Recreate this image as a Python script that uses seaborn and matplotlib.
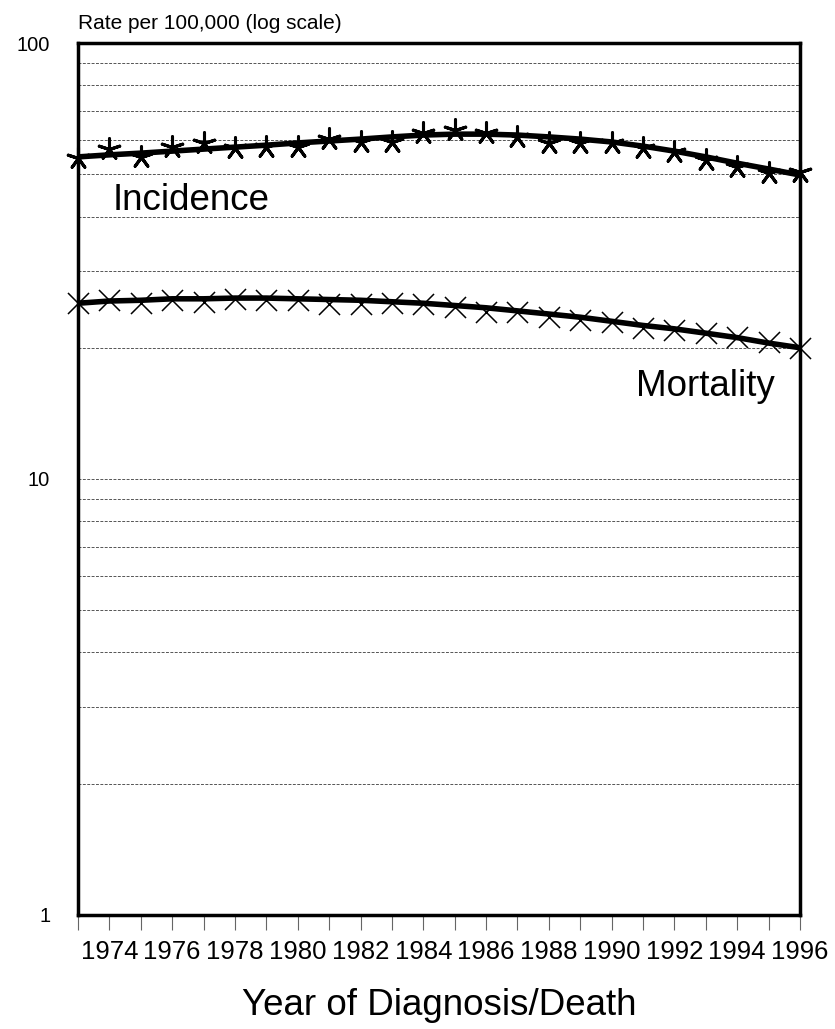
import numpy as np
import pandas as pd
import matplotlib
matplotlib.use("Agg")
import matplotlib.pyplot as plt
import seaborn as sns
from matplotlib.ticker import FixedLocator, NullFormatter

years = list(range(1973, 1997))
incidence_obs = [54.5, 57.1, 54.8, 57.7, 59.0, 57.4, 57.7, 57.7, 60.2, 59.3, 59.3, 62.2,
                 63.2, 62.2, 60.9, 59.0, 59.0, 59.0, 57.4, 56.2, 53.9, 51.9, 50.3, 50.6]
incidence_fit = [54.8, 55.4, 55.9, 56.5, 57.1, 57.7, 58.3, 59.0, 59.6, 60.2, 60.9, 61.5,
                 61.8, 61.8, 61.5, 60.9, 60.2, 59.3, 58.0, 56.5, 54.8, 53.0, 51.4, 49.8]
mortality_obs = [25.3, 25.7, 25.3, 25.7, 25.5, 25.9, 25.7, 25.7, 25.2, 25.2, 25.3, 25.2,
                 24.8, 24.2, 24.2, 23.5, 23.2, 22.9, 22.2, 22.0, 21.6, 21.2, 20.6, 20.0]
mortality_fit = [25.3, 25.6, 25.7, 25.9, 25.9, 26.0, 26.0, 25.9, 25.8, 25.7, 25.5, 25.3,
                 25.0, 24.7, 24.3, 23.9, 23.5, 23.0, 22.5, 22.1, 21.6, 21.1, 20.5, 20.0]
xtick_labels = [str(y) if y % 2 == 0 else "" for y in years]
ytick_values = [1, 10, 100]
ytick_labels = ["1", "10", "100"]
grid_values = [2, 3, 4, 5, 6, 7, 8, 9, 10, 20, 30, 40, 50, 60, 70, 80, 90]

sns.set_style("white")
plt.rcParams['font.family'] = ['Liberation Sans', 'DejaVu Sans']
plt.rcParams['text.color'] = 'black'
plt.rcParams['axes.labelcolor'] = 'black'
plt.rcParams['xtick.labelcolor'] = 'black'
plt.rcParams['ytick.labelcolor'] = 'black'

fig = plt.figure(figsize=(8.35, 10.29), dpi=100)
ax = fig.add_axes([0.0934, 0.1108, 0.8647, 0.8474])

df_fit = pd.DataFrame({"year": years * 2,
                       "rate": incidence_fit + mortality_fit,
                       "series": ["Incidence"] * 24 + ["Mortality"] * 24})

ax.set_yscale("log")
ax.set_ylim(1, 100)
ax.set_xlim(1973, 1996)

for gv in grid_values:
    ax.axhline(gv, color="#555555", lw=0.7, ls=(0, (3, 1.5)), zorder=1)

sns.lineplot(data=df_fit, x="year", y="rate", units="series", estimator=None,
             color="black", lw=4, ax=ax, legend=False, zorder=3)

sns.scatterplot(x=years, y=incidence_obs, marker=(5, 2, 0), s=240,
                color="black", linewidth=2.2, ax=ax, zorder=4)
sns.scatterplot(x=years, y=mortality_obs, marker="x", s=230,
                color="black", linewidth=1.1, ax=ax, zorder=4)
for c in ax.collections:
    c.set_clip_on(False)

for sp in ax.spines.values():
    sp.set_linewidth(2.5)
    sp.set_color("black")
    sp.set_zorder(5)

ax.xaxis.set_major_locator(FixedLocator(years))
ax.set_xticklabels(xtick_labels, fontsize=18.5, color="black")
ax.tick_params(axis="x", direction="out", length=11, width=0.8, color="#666666", pad=7,
               bottom=True, labelcolor="black")
ax.yaxis.set_major_locator(FixedLocator(ytick_values))
ax.yaxis.set_minor_formatter(NullFormatter())
ax.set_yticklabels(ytick_labels, fontsize=14.5, color="black")
ax.tick_params(axis="y", which="both", length=0, pad=20, labelcolor="black")
ax.set_xlabel("Year of Diagnosis/Death", fontsize=26.5, labelpad=17, color="black")
ax.set_ylabel("")

fig.text(0.0934, 0.977, "Rate per 100,000 (log scale)", fontsize=15, ha="left", va="center",
         color="black")
ax.text(1974.1, 43.6, "Incidence", fontsize=26.5, ha="left", va="center", color="black")
ax.text(1995.2, 16.3, "Mortality", fontsize=26.5, ha="right", va="center", color="black")

fig.savefig("out.png", dpi=100)
